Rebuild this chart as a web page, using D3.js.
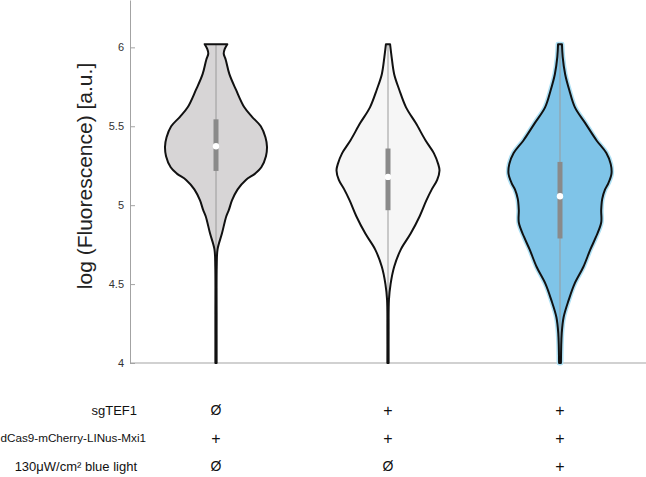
<!DOCTYPE html>
<html>
<head>
<meta charset="utf-8">
<script src="https://cdn.jsdelivr.net/npm/d3@7"></script>
<style>
  body { margin: 0; background: #fff; }
  svg { display: block; font-family: "Liberation Sans", Arial, sans-serif; }
</style>
</head>
<body>
<div id="chart"></div>
<script>
// groups (x categories)
var groups = ['ctrl', 'sg', 'sgLight'];
var fills = ['#d7d5d6', '#f6f6f6', '#7fc4e8'];

// violin profiles: log fluorescence level and relative density
var levels1 = [6.02, 5.99, 5.96, 5.92, 5.83, 5.73, 5.62, 5.56, 5.50, 5.43, 5.37, 5.31, 5.24, 5.20, 5.16, 5.10, 5.03, 4.97, 4.93, 4.82, 4.72, 4.61, 4.30, 4.00];
var dens1   = [0.22, 0.17, 0.15, 0.19, 0.26, 0.39, 0.55, 0.70, 0.87, 0.96, 0.99, 0.97, 0.88, 0.76, 0.58, 0.42, 0.31, 0.25, 0.20, 0.115, 0.03, 0.014, 0.012, 0.012];

var levels2 = [6.02, 5.94, 5.83, 5.73, 5.62, 5.52, 5.41, 5.33, 5.26, 5.22, 5.16, 5.10, 5.03, 4.93, 4.82, 4.72, 4.61, 4.50, 4.40, 4.20, 4.00];
var dens2   = [0.04, 0.07, 0.12, 0.22, 0.35, 0.54, 0.73, 0.89, 0.975, 1.0, 0.955, 0.85, 0.745, 0.615, 0.44, 0.25, 0.12, 0.05, 0.018, 0.012, 0.012];

var levels3 = [6.02, 5.94, 5.83, 5.73, 5.62, 5.52, 5.41, 5.33, 5.26, 5.20, 5.14, 5.10, 5.04, 4.97, 4.89, 4.80, 4.72, 4.61, 4.50, 4.40, 4.29, 4.19, 4.00];
var dens3   = [0.038, 0.052, 0.10, 0.18, 0.29, 0.49, 0.71, 0.90, 0.985, 1.0, 0.94, 0.875, 0.82, 0.80, 0.80, 0.70, 0.59, 0.455, 0.28, 0.17, 0.07, 0.034, 0.018];

// box statistics
var q1s     = [5.217, 4.968, 4.789];
var medians = [5.373, 5.179, 5.057];
var q3s     = [5.544, 5.359, 5.274];

var yTicks = [4, 4.5, 5, 5.5, 6];

// condition table under the plot
var rowLabels = ['sgTEF1', 'dCas9-mCherry-LINus-Mxi1', '130\u03bcW/cm\u00b2 blue light'];
var conditions = [
  ['\u00d8', '+', '+'],
  ['+', '+', '+'],
  ['\u00d8', '\u00d8', '+']
];

(function () {
  var levels = [levels1, levels2, levels3];
  var dens = [dens1, dens2, dens3];

  var W = 646, H = 477;
  var m = { left: 130, right: 646, top: 0, bottom: 363 };

  var svg = d3.select('#chart').append('svg')
    .attr('width', W).attr('height', H);

  var x = d3.scaleBand().domain(groups).range([m.left, m.right]);
  var y = d3.scaleLinear().domain([4, 6.3]).range([m.bottom, m.top]);
  var w = d3.scaleLinear().domain([0, 1]).range([0, 51.5]);

  // axes
  var yAxis = d3.axisLeft(y).tickValues(yTicks)
    .tickFormat(d3.format('')).tickSizeInner(-5).tickSizeOuter(0).tickPadding(6);
  var gy = svg.append('g').attr('transform', 'translate(' + m.left + ',0)').call(yAxis);
  gy.select('.domain').attr('stroke', '#a3a3a3');
  gy.selectAll('.tick line').attr('stroke', '#a3a3a3');
  gy.selectAll('.tick text').attr('fill', '#333').style('font-size', '11px')
    .style('font-family', '"Liberation Sans", Arial, sans-serif');

  svg.append('line')
    .attr('x1', m.left).attr('x2', m.right).attr('y1', m.bottom).attr('y2', m.bottom)
    .attr('stroke', '#a3a3a3');

  svg.append('text')
    .attr('transform', 'translate(84,176) rotate(-90)')
    .attr('text-anchor', 'middle').attr('dominant-baseline', 'central')
    .style('font-size', '21px').attr('fill', '#222')
    .text('log (Fluorescence) [a.u.]');

  // violins
  groups.forEach(function (g, i) {
    var cx = x(g) + x.bandwidth() / 2;
    var pts = levels[i].map(function (v, j) { return { v: v, d: dens[i][j] }; });
    var area = d3.area()
      .curve(d3.curveCatmullRom)
      .y(function (d) { return y(d.v); })
      .x0(function (d) { return cx - w(d.d); })
      .x1(function (d) { return cx + w(d.d); });
    var vg = svg.append('g');

    if (i === 2) {
      vg.append('path').attr('d', area(pts))
        .attr('fill', 'none').attr('stroke', '#aee0f4').attr('stroke-width', 5)
        .attr('stroke-linejoin', 'round');
    }
    vg.append('path').attr('d', area(pts)).attr('fill', fills[i]);

    var vmax = d3.max(levels[i]), vmin = d3.min(levels[i]);
    vg.append('line')
      .attr('x1', cx).attr('x2', cx).attr('y1', y(vmax)).attr('y2', y(vmin))
      .attr('stroke', '#9a9a9a').attr('stroke-width', 1);

    vg.append('path').attr('d', area(pts))
      .attr('fill', 'none').attr('stroke', '#111').attr('stroke-width', 2)
      .attr('stroke-linejoin', 'round');

    vg.append('line')
      .attr('x1', cx).attr('x2', cx).attr('y1', y(q3s[i])).attr('y2', y(q1s[i]))
      .attr('stroke', '#8a8a8a').attr('stroke-width', 5);

    vg.append('circle')
      .attr('cx', cx).attr('cy', y(medians[i])).attr('r', 3.2)
      .attr('fill', '#fff');
  });

  // condition table
  var rowY = [410, 438, 466];
  var labelRight = [137, 146, 137];
  var labelSize = ['13px', '11.7px', '13px'];
  rowLabels.forEach(function (lab, r) {
    svg.append('text')
      .attr('x', labelRight[r]).attr('y', rowY[r]).attr('dy', '0.35em')
      .attr('text-anchor', 'end')
      .style('font-size', labelSize[r]).attr('fill', '#111')
      .text(lab);
    conditions[r].forEach(function (s, c) {
      svg.append('text')
        .attr('x', x(groups[c]) + x.bandwidth() / 2).attr('y', rowY[r]).attr('dy', '0.35em')
        .attr('text-anchor', 'middle')
        .style('font-size', s === '+' ? '16px' : '14px').attr('fill', '#111')
        .text(s);
    });
  });
})();
</script>
</body>
</html>
